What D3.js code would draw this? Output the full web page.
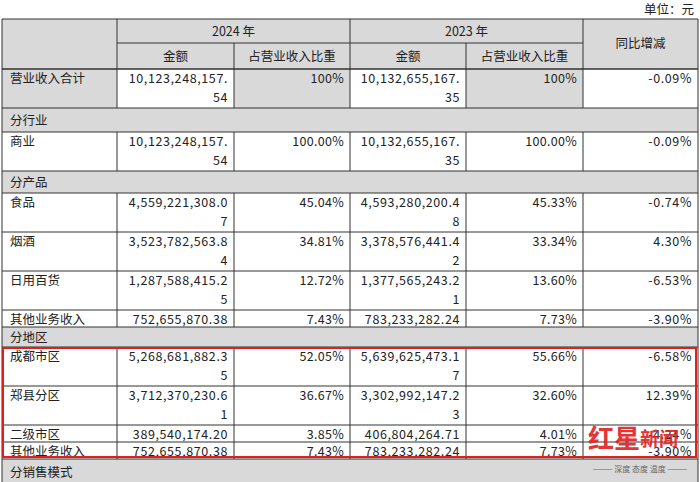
<!DOCTYPE html>
<html><head><meta charset="utf-8">
<script src="https://cdn.jsdelivr.net/npm/d3@7"></script>
<style>body{margin:0;background:#fff}text{font-family:"Noto Sans CJK SC",sans-serif;font-size:12.5px;fill:#222}</style>
</head><body><svg id="c" width="700" height="482"></svg>
<script>
// rows: [label, amt2024, pct2024, amt2023, pct2023, yoy]; section rows have only a label
var rows = [
  ['营业收入合计', '10,123,248,157.54', '100%', '10,132,655,167.35', '100%', '-0.09%'],
  ['分行业'],
  ['商业', '10,123,248,157.54', '100.00%', '10,132,655,167.35', '100.00%', '-0.09%'],
  ['分产品'],
  ['食品', '4,559,221,308.07', '45.04%', '4,593,280,200.48', '45.33%', '-0.74%'],
  ['烟酒', '3,523,782,563.84', '34.81%', '3,378,576,441.42', '33.34%', '4.30%'],
  ['日用百货', '1,287,588,415.25', '12.72%', '1,377,565,243.21', '13.60%', '-6.53%'],
  ['其他业务收入', '752,655,870.38', '7.43%', '783,233,282.24', '7.73%', '-3.90%'],
  ['分地区'],
  ['成都市区', '5,268,681,882.35', '52.05%', '5,639,625,473.17', '55.66%', '-6.58%'],
  ['郑县分区', '3,712,370,230.61', '36.67%', '3,302,992,147.23', '32.60%', '12.39%'],
  ['二级市区', '389,540,174.20', '3.85%', '406,804,264.71', '4.01%', '-4.24%'],
  ['其他业务收入', '752,655,870.38', '7.43%', '783,233,282.24', '7.73%', '-3.90%'],
  ['分销售模式']
]
var years = ['2024 年', '2023 年']
var subHeads = ['金额', '占营业收入比重']
var yoyHead = '同比增减'
var unit = '单位：元'

var svg = d3.select('#c')
var gray = '#d9d9d9'
var colEdges = [2, 117, 234, 350, 466, 583, 698]
var x = i => colEdges[i]

// row heights: two-line amount rows are taller
var heights = rows.map(r => r.length == 1 ? 22 : (r[1].length > 15 ? 39 : 17))
heights[1] = 24; heights[3] = 22; heights[8] = 20; heights[13] = 25
var tops = []; var yy = 69
heights.forEach((h, i) => { tops.push(yy); yy += h })

svg.append('text').attr('x', 694).attr('y', 14).attr('text-anchor', 'end').text(unit)

var g = svg.append('g')
// header
g.append('rect').attr('x', 2).attr('y', 19).attr('width', 696).attr('height', 50).attr('fill', gray)
years.forEach((yr, i) => {
  g.append('text').attr('x', (x(1 + 2*i) + x(3 + 2*i))/2).attr('y', 36).attr('text-anchor', 'middle').text(yr)
  subHeads.forEach((s, j) => {
    g.append('text').attr('x', (x(1 + 2*i + j) + x(2 + 2*i + j))/2).attr('y', 61).attr('text-anchor', 'middle').text(s)
  })
})
g.append('text').attr('x', (x(5) + x(6))/2).attr('y', 48).attr('text-anchor', 'middle').text(yoyHead)

rows.forEach((r, i) => {
  var t = tops[i], h = heights[i]
  if (r.length == 1) {
    g.append('rect').attr('x', 2).attr('y', t).attr('width', 696).attr('height', h).attr('fill', gray)
    g.append('text').attr('x', 10).attr('y', t + h/2 + 5).text(r[0])
    return
  }
  r.forEach((v, j) => {
    if ((i == 0 && (j == 0 || j == 2 || j == 4)))
      g.append('rect').attr('x', x(j)).attr('y', t).attr('width', x(j + 1) - x(j)).attr('height', h).attr('fill', gray)
    if (j == 0) { g.append('text').attr('x', 10).attr('y', t + 14).text(v); return }
    var lines = v.length > 15 ? [v.slice(0, 15), v.slice(15)] : [v]
    lines.forEach((l, k) => {
      g.append('text').attr('x', x(j + 1) - 6).attr('y', t + 14 + k*19).attr('text-anchor', 'end')
        .style('letter-spacing', j % 2 ? '0.6px' : '0.3px').text(l)
    })
  })
})

// grid lines
var bottom = 482
var hl = [19, 69].concat(tops).concat([tops[tops.length - 1] + heights[heights.length - 1]])
g.selectAll('line.h').data(hl).join('line').attr('x1', 2).attr('x2', 698)
  .attr('y1', d => d).attr('y2', d => d).attr('stroke', '#333').attr('stroke-width', 1)
g.append('line').attr('x1', x(1)).attr('x2', x(5)).attr('y1', 43).attr('y2', 43).attr('stroke', '#333')
// verticals
colEdges.forEach((cx, j) => {
  var segs = []
  if (j == 0 || j == 6) segs.push([19, bottom])
  else {
    segs.push([j == 2 || j == 4 ? 43 : 19, 69])
    rows.forEach((r, i) => { if (r.length > 1) segs.push([tops[i], tops[i] + heights[i]]) })
  }
  segs.forEach(s => g.append('line').attr('x1', cx).attr('x2', cx).attr('y1', s[0]).attr('y2', s[1]).attr('stroke', '#333'))
})

// red highlight box
var rt = tops[9], rb = tops[13] - 2
svg.append('rect').attr('x', 3).attr('y', rt + 1).attr('width', 693).attr('height', rb - rt - 1)
  .attr('fill', 'none').attr('stroke', '#e0201b').attr('stroke-width', 2)

// watermark (overlays the table, as in the source image)
svg.append('text').attr('x', 588).attr('y', 448).style('font-size', '26px').style('font-weight', 'bold')
  .style('fill', '#e02020').style('opacity', 0.9).text('红星')
svg.append('text').attr('x', 640).attr('y', 446).style('font-size', '19px').style('font-weight', 'bold')
  .style('fill', '#e02020').style('opacity', 0.9).text('新闻')
svg.append('text').attr('x', 640).attr('y', 472).attr('text-anchor', 'middle').style('font-size', '8px')
  .style('fill', '#666').text('——— 深度 态度 温度 ———')
</script></body></html>
